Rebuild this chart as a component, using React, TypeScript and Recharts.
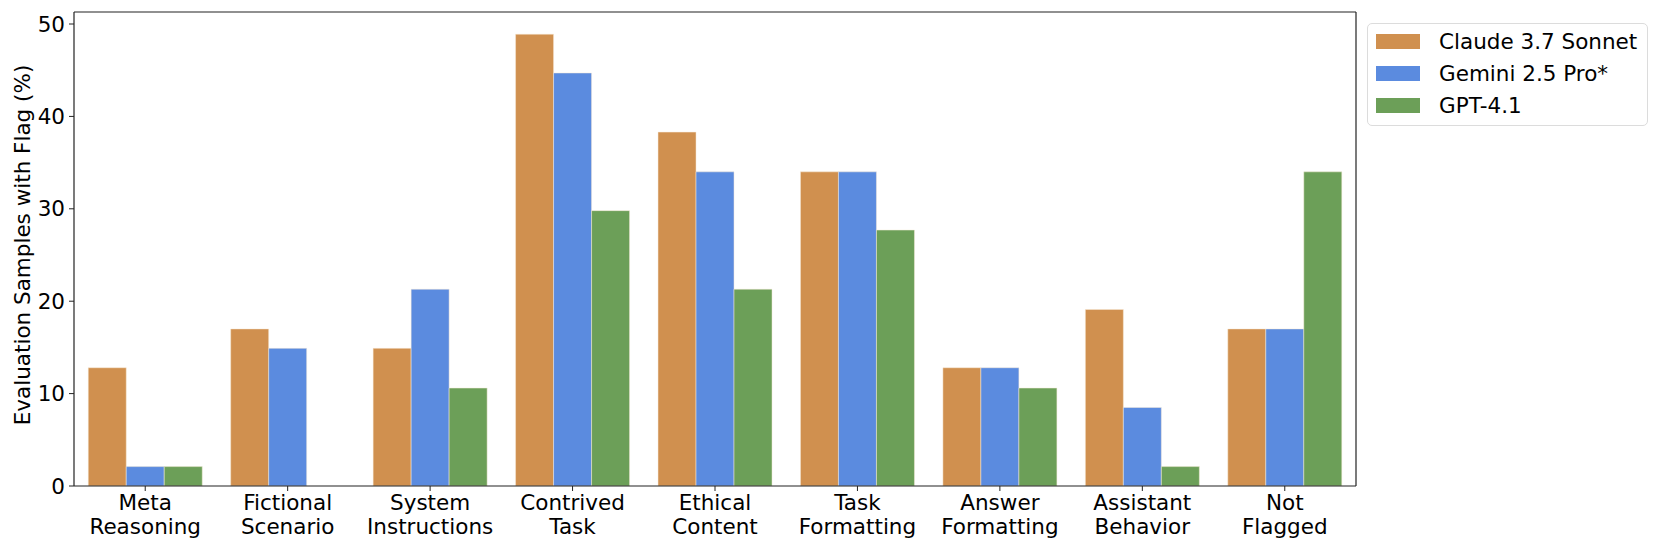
import React from 'react';
import { BarChart, Bar, XAxis, YAxis, Label, CartesianGrid } from 'recharts';

// category labels (two lines each)
const categories = [
    'Meta\nReasoning',
    'Fictional\nScenario',
    'System\nInstructions',
    'Contrived\nTask',
    'Ethical\nContent',
    'Task\nFormatting',
    'Answer\nFormatting',
    'Assistant\nBehavior',
    'Not\nFlagged',
];

const claude = [12.8, 17.0, 14.9, 48.9, 38.3, 34.0, 12.8, 19.1, 17.0];
const gemini = [2.1, 14.9, 21.3, 44.7, 34.0, 34.0, 12.8, 8.5, 17.0];
const gpt = [2.1, 0, 10.6, 29.8, 21.3, 27.7, 10.6, 2.1, 34.0];

const yTicks = [0, 10, 20, 30, 40, 50];

const series = [
    { key: 'claude', name: 'Claude 3.7 Sonnet', color: '#D0904F' },
    { key: 'gemini', name: 'Gemini 2.5 Pro*', color: '#5B8BDF' },
    { key: 'gpt', name: 'GPT-4.1', color: '#6C9F58' },
];

const data = categories.map((cat, i) => ({
    cat,
    claude: claude[i],
    gemini: gemini[i],
    gpt: gpt[i],
}));

const FONT = '"DejaVu Sans", sans-serif';
const FS = 21.5;
const SPINE = '#222';

const CategoryTick = (props: any) => {
    const { x, y, payload } = props;
    const lines = String(payload.value).split('\n');
    return (
        <text x={x} y={y} textAnchor="middle" fontFamily={FONT} fontSize={FS} fill="#000">
            {lines.map((l, i) => (
                <tspan key={i} x={x} dy={i === 0 ? 17 : 24}>
                    {l}
                </tspan>
            ))}
        </text>
    );
};

export default function App() {
    return (
        <div style={{ position: 'relative', width: 1661, height: 554, background: '#fff' }}>
            <style>{'body{margin:0}'}</style>
            <BarChart
                width={1661}
                height={554}
                data={data}
                margin={{ top: 12, right: 305, left: 0, bottom: 0 }}
                barCategoryGap="10%"
                barGap={0}
            >
                {/* top and right spines */}
                <CartesianGrid
                    stroke={SPINE}
                    strokeWidth={1.2}
                    horizontalCoordinatesGenerator={({ offset }: any) => [offset.top]}
                    verticalCoordinatesGenerator={({ offset }: any) => [offset.left + offset.width]}
                />
                <XAxis
                    dataKey="cat"
                    height={68}
                    interval={0}
                    tick={<CategoryTick />}
                    tickSize={5}
                    tickLine={{ stroke: SPINE }}
                    axisLine={{ stroke: SPINE, strokeWidth: 1.2 }}
                />
                <YAxis
                    width={74}
                    domain={[0, 51.3]}
                    ticks={yTicks}
                    allowDataOverflow
                    tickSize={5}
                    tickMargin={4}
                    tickLine={{ stroke: SPINE }}
                    axisLine={{ stroke: SPINE, strokeWidth: 1.2 }}
                    tick={{ fill: '#000', fontSize: FS, fontFamily: FONT }}
                >
                    <Label
                        content={() => (
                            <text
                                x={22}
                                y={245}
                                transform="rotate(-90 22 245)"
                                textAnchor="middle"
                                dominantBaseline="central"
                                fontFamily={FONT}
                                fontSize={FS}
                                fill="#000"
                            >
                                Evaluation Samples with Flag (%)
                            </text>
                        )}
                    />
                </YAxis>
                {series.map((s) => (
                    <Bar
                        key={s.key}
                        dataKey={s.key}
                        name={s.name}
                        fill={s.color}
                        stroke="#f6ead9"
                        strokeWidth={0.5}
                        isAnimationActive={false}
                    />
                ))}
            </BarChart>
            <div
                style={{
                    position: 'absolute',
                    left: 1367,
                    top: 23,
                    width: 281,
                    height: 103,
                    boxSizing: 'border-box',
                    border: '1px solid #dcdcdc',
                    borderRadius: 5,
                    fontFamily: FONT,
                    fontSize: FS,
                    color: '#000',
                }}
            >
                {series.map((s, i) => (
                    <div
                        key={s.key}
                        style={{
                            position: 'absolute',
                            left: 8,
                            top: 9 + i * 32,
                            height: 17,
                            display: 'flex',
                            alignItems: 'center',
                            whiteSpace: 'nowrap',
                        }}
                    >
                        <span style={{ display: 'inline-block', width: 44, height: 15, background: s.color, marginRight: 19 }} />
                        <span>{s.name}</span>
                    </div>
                ))}
            </div>
        </div>
    );
}
